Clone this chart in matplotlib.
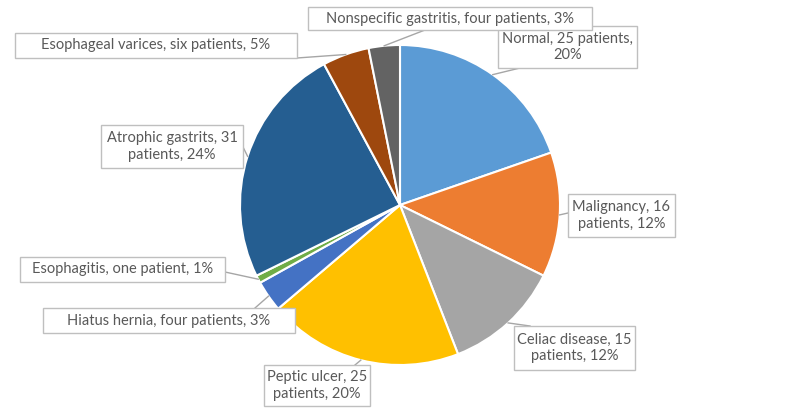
import numpy as np
import matplotlib
matplotlib.use("Agg")
import matplotlib.pyplot as plt
from matplotlib.patches import Rectangle

plt.rcParams['font.family'] = ['Lato', 'DejaVu Sans']

categories = ["Normal", "Malignancy", "Celiac disease", "Peptic ulcer", "Hiatus hernia",
              "Esophagitis", "Atrophic gastrits", "Esophageal varices", "Nonspecific gastritis"]
patients = [25, 16, 15, 25, 4, 1, 31, 6, 4]
labels = ["Normal, 25 patients,\n20%",
          "Malignancy, 16\npatients, 12%",
          "Celiac disease, 15\npatients, 12%",
          "Peptic ulcer, 25\npatients, 20%",
          "Hiatus hernia, four patients, 3%",
          "Esophagitis, one patient, 1%",
          "Atrophic gastrits, 31\npatients, 24%",
          "Esophageal varices, six patients, 5%",
          "Nonspecific gastritis, four patients, 3%"]
colors = ["#5B9BD5", "#ED7D31", "#A5A5A5", "#FFC000", "#4472C4",
          "#70AD47", "#255E91", "#9E480E", "#636363"]

H = 409
# label boxes (pixel layout: x0, y0_top, x1, y1_bottom) and leader end point on box
boxes = [(498, 26, 637, 68), (568, 194, 675, 237), (514, 326, 635, 370),
         (264, 365, 370, 406), (43, 308, 295, 333), (20, 257, 225, 282),
         (101, 125, 243, 168), (15, 33, 297, 58), (308, 7, 592, 30)]
box_pts = [(520, 68), (568, 213), (530, 326), (355, 365), (255, 308),
           (225, 272), (243, 147), (297, 58), (425, 30)]

fig = plt.figure(figsize=(8, 4.09), dpi=100)
ax = fig.add_axes([0, 0, 1, 1])
ax.set_xlim(0, 800)
ax.set_ylim(0, H)
ax.axis('off')

cx, cy, r = 400, H - 205, 160
wedges, _ = ax.pie(patients, colors=colors, startangle=90, counterclock=False,
                   center=(cx, cy), radius=r, frame=True,
                   wedgeprops=dict(edgecolor='white', linewidth=1.5))
ax.set_xlim(0, 800)
ax.set_ylim(0, H)
ax.set_aspect('equal')
ax.axis('off')

for w, lab, b, bp in zip(wedges, labels, boxes, box_pts):
    ang = np.deg2rad((w.theta1 + w.theta2) / 2)
    ax_pt = (cx + r * np.cos(ang), cy + r * np.sin(ang))
    ax.plot([ax_pt[0], bp[0]], [ax_pt[1], H - bp[1]], color='#A6A6A6', lw=1, zorder=3)
    x0, y0, x1, y1 = b
    ax.add_patch(Rectangle((x0, H - y1), x1 - x0, y1 - y0, facecolor='white',
                           edgecolor='#BFBFBF', lw=1, zorder=4))
    ax.text((x0 + x1) / 2, H - (y0 + y1) / 2, lab, ha='center', va='center',
            fontsize=10.5, color='#595959', zorder=5, linespacing=1.25)

fig.savefig("out.png", dpi=100)
